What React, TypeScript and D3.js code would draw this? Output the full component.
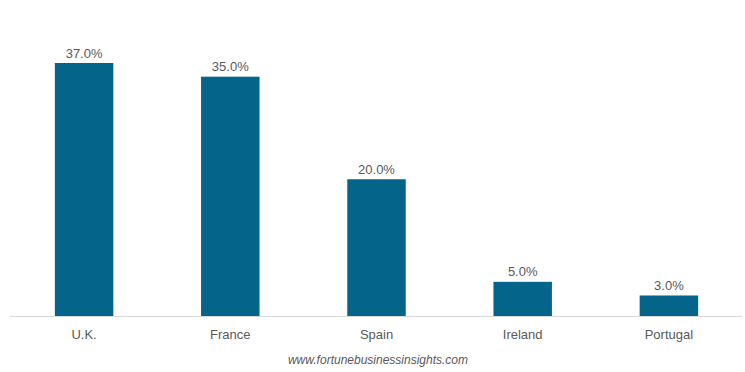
import React from "react";
import * as d3 from "d3";

const categories = ["U.K.", "France", "Spain", "Ireland", "Portugal"];
const values = [37.0, 35.0, 20.0, 5.0, 3.0];
const footer = "www.fortunebusinessinsights.com";

const W = 745;
const H = 372;

export default function App() {
  const x = d3.scaleBand<string>().domain(categories).range([11, 742]).paddingInner(0.6).paddingOuter(0.3);
  const y = d3.scaleLinear().domain([0, 37]).range([316, 63]);
  const font = "'Liberation Sans', Arial, sans-serif";
  return (
    <svg width={W} height={H} style={{ position: "absolute", left: 0, top: 0, background: "#fff" }}>
      {categories.map((c, i) => (
        <g key={c}>
          <rect x={x(c)!} y={y(values[i])} width={x.bandwidth()} height={y(0) - y(values[i])} fill="#05648a" />
          <text x={x(c)! + x.bandwidth() / 2} y={y(values[i]) - 5.5} textAnchor="middle" fontFamily={font} fontSize={13} fill="#595959">
            {values[i].toFixed(1) + "%"}
          </text>
          <text x={x(c)! + x.bandwidth() / 2} y={339} textAnchor="middle" fontFamily={font} fontSize={13} fill="#595959">
            {c}
          </text>
        </g>
      ))}
      <line x1={10} x2={742} y1={316.5} y2={316.5} stroke="#d9d9d9" strokeWidth={1} />
      <text x={378} y={364} textAnchor="middle" fontFamily={font} fontSize={12} fontStyle="italic" fill="#595959">
        {footer}
      </text>
    </svg>
  );
}
